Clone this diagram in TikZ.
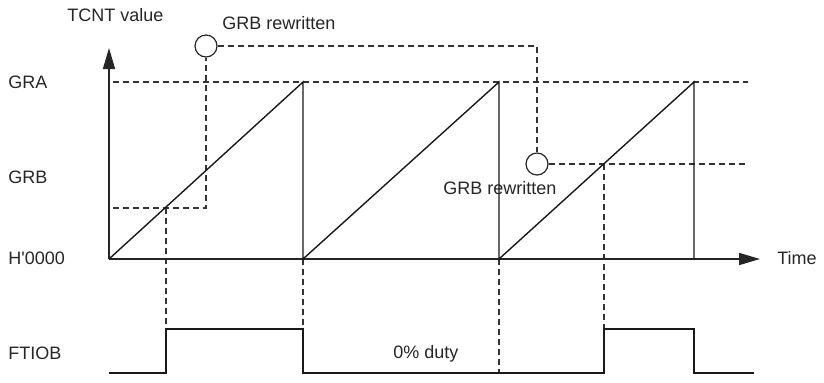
\documentclass[tikz,border=0pt]{standalone}
\usepackage{fontspec}
\setmainfont{Liberation Sans}
\usetikzlibrary{arrows.meta}
\begin{document}
\begin{tikzpicture}[x=0.5pt,y=-0.5pt,
 lbl/.style={font=\fontsize{9}{11}\selectfont, inner sep=0pt, anchor=base west, text=black!85},
 sig/.style={line width=0.7pt, line join=miter, draw=black!90},
 dsh/.style={line width=0.6pt, dash pattern=on 3pt off 2pt, draw=black!80},
 axis/.style={line width=0.8pt, draw=black!85, -{Triangle[length=10.5pt,width=6pt]}},
 mcirc/.style={circle, draw=black!85, line width=0.6pt, minimum size=11pt, inner sep=0pt}]
\useasboundingbox (0,0) rectangle (824,382);
% labels
\node[lbl] (tcnt) at (67,21) {TCNT value};
\node[lbl] (gra) at (8,88) {GRA};
\node[lbl] (grb) at (8,183) {GRB};
\node[lbl] (h0) at (8,264) {H\textquotesingle 0000};
\node[lbl] (ftiob) at (8,359) {FTIOB};
\node[lbl] (time) at (777,264) {Time};
\node[lbl] (duty) at (393,358) {0\% duty};
\node[lbl] (rw1) at (222,29) {GRB rewritten};
\node[lbl] (rw2) at (443,194) {GRB rewritten};
% circles
\node[mcirc] (c1) at (206,46) {};
\node[mcirc] (c2) at (537,164) {};
% coordinates
\coordinate (o) at (109,259);
\coordinate (ytop) at (109,48);
\coordinate (xend) at (760,259);
\coordinate (p1) at (303,82);
\coordinate (b1) at (303,259);
\coordinate (p2) at (499,82);
\coordinate (b2) at (499,259);
\coordinate (p3) at (694,82);
\coordinate (b3) at (694,259);
\coordinate (gra0) at (113,82);
\coordinate (gra1) at (748,82);
\coordinate (grbo0) at (113,208);
\coordinate (grbo1) at (206,208);
\coordinate (rwc) at (537,46);
\coordinate (grbn1) at (748,164);
\coordinate (i1) at (166,208);
\coordinate (i2) at (604,164);
\coordinate (f0) at (109,373);
\coordinate (f1l) at (166,373);
\coordinate (f1h) at (166,329);
\coordinate (f2h) at (303,329);
\coordinate (f2l) at (303,373);
\coordinate (f3l) at (499,373);
\coordinate (f4l) at (604,373);
\coordinate (f4h) at (604,329);
\coordinate (f5h) at (694,329);
\coordinate (f5l) at (694,373);
\coordinate (f6) at (754,373);
% dashed references
\draw[dsh] (gra0) -- (gra1);
\draw[dsh] (grbo0) -- (grbo1) -- (c1.south);
\draw[dsh] (c1.east) -- (rwc) -- (c2.north);
\draw[dsh] (c2.east) -- (grbn1);
\draw[dsh] (i1) -- (f1h);
\draw[dsh] (b1) -- (f2h);
\draw[dsh] (b2) -- (f3l);
\draw[dsh] (i2) -- (f4h);
% axes
\draw[axis] (o) -- (ytop);
\draw[axis] (o) -- (xend);
% sawtooth
\draw[sig] (o) -- (p1) -- (b1) -- (p2) -- (b2) -- (p3) -- (b3);
% FTIOB
\draw[sig] (f0) -- (f1l) -- (f1h) -- (f2h) -- (f2l) -- (f3l) -- (f4l) -- (f4h) -- (f5h) -- (f5l) -- (f6);
\end{tikzpicture}
\end{document}
